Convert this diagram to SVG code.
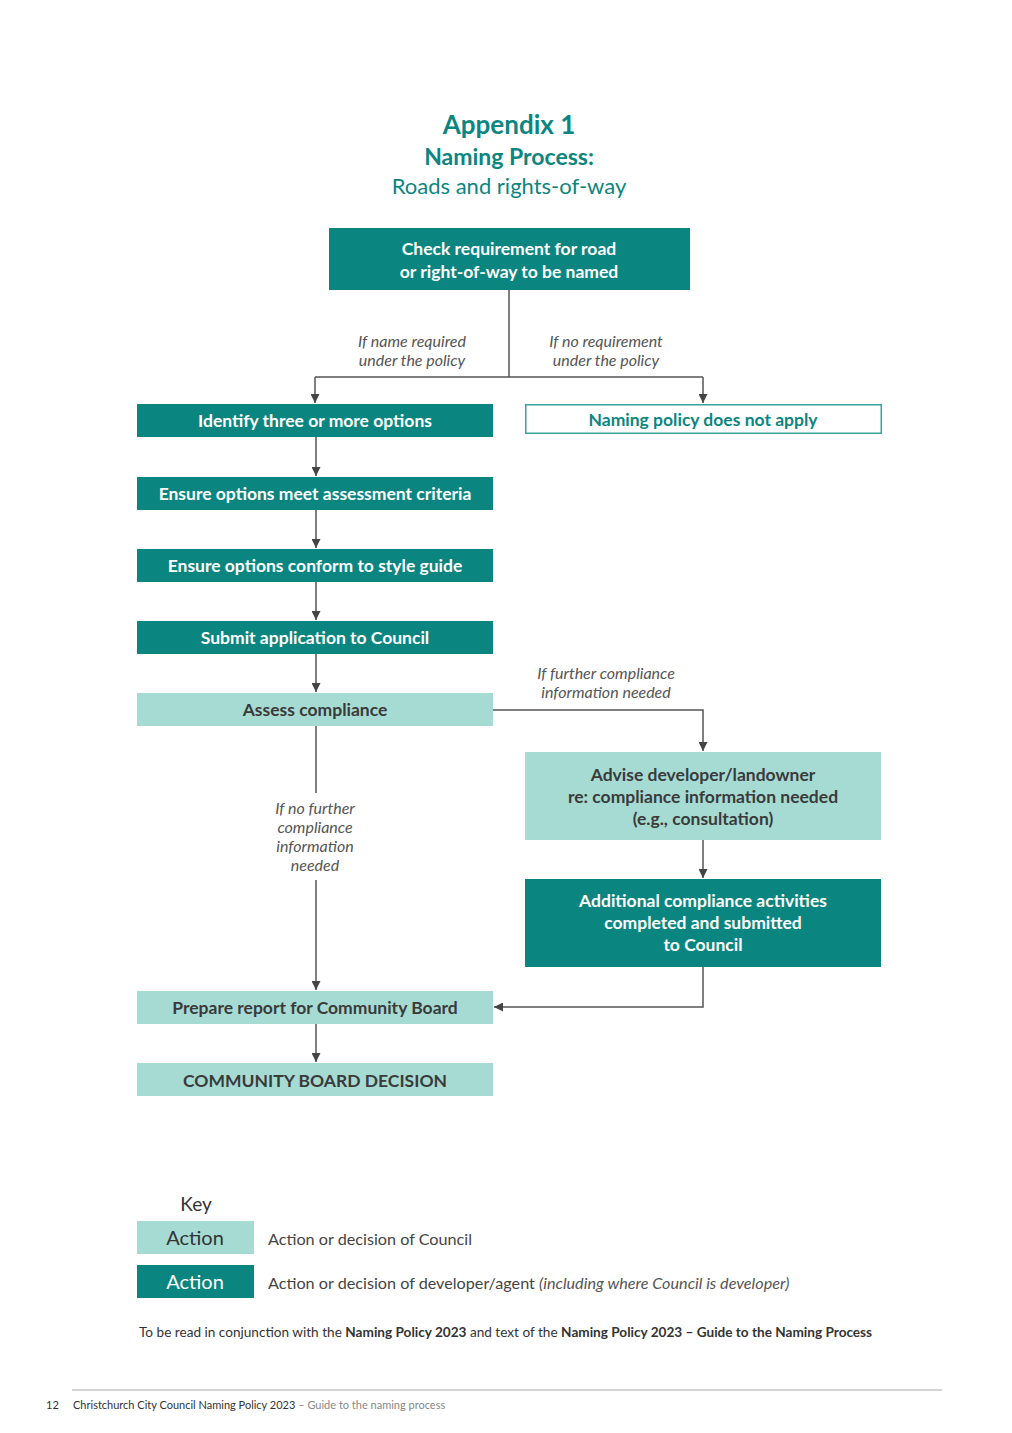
<svg xmlns="http://www.w3.org/2000/svg" width="1012" height="1433" viewBox="0 0 1012 1433">
<defs>
<marker id="arr" viewBox="0 0 10 10" refX="10" refY="5" markerWidth="9" markerHeight="9" markerUnits="userSpaceOnUse" orient="auto">
<path d="M0,0 L10,5 L0,10 z" fill="#444"/>
</marker>
<style>
text{font-family:Lato,"Open Sans","Liberation Sans",sans-serif;}
.dark{fill:#0b8580;}
.light{fill:#a6dbd4;}
.wt{fill:#fff;font-size:17.5px;font-weight:700;text-anchor:middle;}
.dt{fill:#3a3a3a;font-size:17.5px;font-weight:700;text-anchor:middle;}
.lbl{fill:#555;font-size:16px;font-style:italic;text-anchor:middle;}
.con{fill:none;stroke:#555;stroke-width:1.5;}
</style>
</defs>
<rect width="1012" height="1433" fill="#fff"/>
<g id="title">
<text x="509" y="134" text-anchor="middle" font-size="26" font-weight="700" fill="#0b8580">Appendix 1</text>
<text x="509" y="165" text-anchor="middle" font-size="23" font-weight="700" fill="#0b8580">Naming Process:</text>
<text x="509" y="194" text-anchor="middle" font-size="22" fill="#0b8580">Roads and rights-of-way</text>
</g>
<g id="connectors">
<path class="con" d="M509,290 V377 M315,377 H703"/>
<path class="con" d="M315,377 V403" marker-end="url(#arr)"/>
<path class="con" d="M703,377 V403" marker-end="url(#arr)"/>
<path class="con" d="M316,437 V476" marker-end="url(#arr)"/>
<path class="con" d="M316,510 V548" marker-end="url(#arr)"/>
<path class="con" d="M316,582 V620" marker-end="url(#arr)"/>
<path class="con" d="M316,654 V692" marker-end="url(#arr)"/>
<path class="con" d="M493,710 H703 V751" marker-end="url(#arr)"/>
<path class="con" d="M703,840 V878" marker-end="url(#arr)"/>
<path class="con" d="M703,967 V1007 H494" marker-end="url(#arr)"/>
<path class="con" d="M316,726 V793"/>
<path class="con" d="M316,880 V990" marker-end="url(#arr)"/>
<path class="con" d="M316,1024 V1062" marker-end="url(#arr)"/>
<text class="lbl" x="412" y="347">If name required</text>
<text class="lbl" x="412" y="366">under the policy</text>
<text class="lbl" x="606" y="347">If no requirement</text>
<text class="lbl" x="606" y="366">under the policy</text>
<text class="lbl" x="606" y="679">If further compliance</text>
<text class="lbl" x="606" y="698">information needed</text>
<text class="lbl" x="315" y="814">If no further</text>
<text class="lbl" x="315" y="833">compliance</text>
<text class="lbl" x="315" y="852">information</text>
<text class="lbl" x="315" y="871">needed</text>
</g>
<g id="n-check">
<rect class="dark" x="329" y="228" width="361" height="62"/>
<text class="wt" x="509" y="255">Check requirement for road</text>
<text class="wt" x="509" y="278">or right-of-way to be named</text>
</g>
<g id="n-identify">
<rect class="dark" x="137" y="404" width="356" height="33"/>
<text class="wt" x="315" y="427">Identify three or more options</text>
</g>
<g id="n-notapply">
<rect x="525.75" y="404.75" width="355.5" height="28.5" fill="#fff" stroke="#3aa39c" stroke-width="1.5"/>
<text x="703" y="426" font-size="17.5" font-weight="700" fill="#0b8580" text-anchor="middle">Naming policy does not apply</text>
</g>
<g id="n-criteria">
<rect class="dark" x="137" y="477" width="356" height="33"/>
<text class="wt" x="315" y="500">Ensure options meet assessment criteria</text>
</g>
<g id="n-style">
<rect class="dark" x="137" y="549" width="356" height="33"/>
<text class="wt" x="315" y="572">Ensure options conform to style guide</text>
</g>
<g id="n-submit">
<rect class="dark" x="137" y="621" width="356" height="33"/>
<text class="wt" x="315" y="644">Submit application to Council</text>
</g>
<g id="n-assess">
<rect class="light" x="137" y="693" width="356" height="33"/>
<text class="dt" x="315" y="716">Assess compliance</text>
</g>
<g id="n-advise">
<rect class="light" x="525" y="752" width="356" height="88"/>
<text class="dt" x="703" y="781">Advise developer/landowner</text>
<text class="dt" x="703" y="803">re: compliance information needed</text>
<text class="dt" x="703" y="825">(e.g., consultation)</text>
</g>
<g id="n-additional">
<rect class="dark" x="525" y="879" width="356" height="88"/>
<text class="wt" x="703" y="907">Additional compliance activities</text>
<text class="wt" x="703" y="929">completed and submitted</text>
<text class="wt" x="703" y="951">to Council</text>
</g>
<g id="n-prepare">
<rect class="light" x="137" y="991" width="356" height="33"/>
<text class="dt" x="315" y="1014">Prepare report for Community Board</text>
</g>
<g id="n-decision">
<rect class="light" x="137" y="1063" width="356" height="33"/>
<text class="dt" x="315" y="1087" font-size="18.5">COMMUNITY BOARD DECISION</text>
</g>
<g id="key">
<text x="196" y="1211" text-anchor="middle" font-size="19" fill="#333">Key</text>
<rect class="light" x="137" y="1221" width="117" height="33"/>
<text x="195" y="1245" text-anchor="middle" font-size="20" fill="#333">Action</text>
<rect class="dark" x="137" y="1265" width="117" height="33"/>
<text x="195" y="1289" text-anchor="middle" font-size="20" fill="#fff">Action</text>
<text x="268" y="1245" font-size="16.2" fill="#444">Action or decision of Council</text>
<text x="268" y="1289" font-size="16.2" fill="#444">Action or decision of developer/agent <tspan font-style="italic" fill="#555">(including where Council is developer)</tspan></text>
</g>
<g id="note">
<text x="139" y="1337" font-size="13.6" fill="#333">To be read in conjunction with the <tspan font-weight="700">Naming Policy 2023</tspan> and text of the <tspan font-weight="700">Naming Policy 2023 – Guide to the Naming Process</tspan></text>
</g>
<g id="footer">
<line x1="72" y1="1390" x2="942" y2="1390" stroke="#aaa" stroke-width="1"/>
<text x="46" y="1409" font-size="11" fill="#333">12</text>
<text x="73" y="1409" font-size="11" fill="#333">Christchurch City Council Naming Policy 2023 <tspan fill="#888">– Guide to the naming process</tspan></text>
</g>
</svg>
